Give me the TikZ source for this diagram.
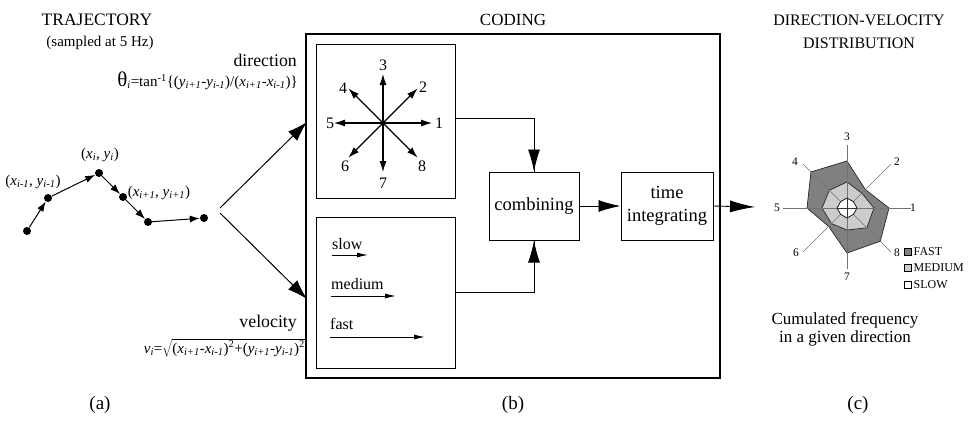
\documentclass[tikz,border=0pt]{standalone}
\usepackage{fontspec}
\setmainfont{Liberation Serif}
\usetikzlibrary{arrows.meta,calc}

% font size helper: size and baseline skip in pt
\newcommand{\setfs}[2]{\fontsize{#1}{#2}\selectfont}
% italic text subscript
\newcommand{\isub}[1]{\textsubscript{\itshape #1}}

\begin{document}
\begin{tikzpicture}[x=1pt,y=-1pt,
  lbl/.style={inner sep=0pt},
  outerbox/.style={draw, line width=1.3pt, inner sep=0pt},
  panel/.style={draw, line width=1pt, inner sep=0pt},
  stage/.style={draw, line width=1pt, inner sep=0pt, align=center, font=\setfs{18.5}{23}},
  dot/.style={circle, fill, inner sep=0pt, minimum size=8pt},
  trajarrow/.style={line width=1pt, -{Latex[length=10pt,width=7pt]}},
  branch/.style={line width=1pt, -{Latex[length=20pt,width=13pt]}},
  bigarrow/.style={line width=0.9pt, -{Latex[length=22pt,width=12pt]}},
  stararrow/.style={line width=1.1pt, -{Latex[length=11pt,width=7pt]}},
  speedarrow/.style={line width=1pt, -{Latex[length=11pt,width=5pt]}},
  link/.style={line width=0.9pt},
  radaxis/.style={line width=0.6pt, black!55},
  fastfill/.style={fill=black!50, draw=black!85, line width=0.7pt},
  medfill/.style={fill=black!20, draw=black!85, line width=0.7pt},
  slowfill/.style={fill=white, draw=black, line width=0.7pt},
  legsq/.style={draw, line width=0.6pt, inner sep=0pt, minimum size=7pt},
  radlbl/.style={inner sep=0pt, font=\setfs{11.5}{12}},
  starlbl/.style={inner sep=0pt, font=\setfs{16}{16}},
]
\useasboundingbox (0,0) rectangle (973,421);

% ---------------- titles ----------------
\node[lbl, font=\setfs{17.5}{20}] (ttraj) at (97,20) {TRAJECTORY};
\node[lbl, font=\setfs{15}{18}] (tsamp) at (100,43) {(sampled at 5 Hz)};
\node[lbl, font=\setfs{17}{20}] (tcod) at (513,20) {CODING};
\node[lbl, font=\setfs{16}{23}, align=center] (tdist) at (859,31.5) {DIRECTION-VELOCITY\\DISTRIBUTION};

% ---------------- (a) trajectory ----------------
\node[dot] (p1) at (27,231) {};
\node[dot] (p2) at (48,198) {};
\node[dot] (p3) at (99,173) {};
\node[dot] (p4) at (123,197) {};
\node[dot] (p5) at (148,222) {};
\node[dot] (p6) at (204,218) {};
\draw[trajarrow] (p1) -- (p2);
\draw[trajarrow] (p2) -- (p3);
\draw[trajarrow] (p3) -- (p4);
\draw[trajarrow] (p4) -- (p5);
\draw[trajarrow] (p5) -- (p6);

\node[lbl, font=\setfs{15}{16}] (lprev) at (33,182) {(\textit{x}\isub{i-1}, \textit{y}\isub{i-1})};
\node[lbl, font=\setfs{15}{16}] (lcur) at (100,155) {(\textit{x}\isub{i}, \textit{y}\isub{i})};
\node[lbl, font=\setfs{15}{16}] (lnext) at (159,193) {(\textit{x}\isub{i+1}, \textit{y}\isub{i+1})};

% fork towards the two codings
\coordinate (forkup) at (220,208);
\coordinate (forkdown) at (220,213);
\coordinate (dirin) at (307,122);
\coordinate (velin) at (307,299);
\draw[branch] (forkup) -- (dirin);
\draw[branch] (forkdown) -- (velin);

\node[lbl, anchor=east, font=\setfs{17.8}{20}] (ldir) at (297,60) {direction};
\node[lbl, anchor=east, font=\setfs{15}{16}] (fdir) at (298,81)
  {{\setfs{21}{21}θ}\isub{i}=tan\textsuperscript{-1}\{(\textit{y}\isub{i+1}-\textit{y}\isub{i-1})/(\textit{x}\isub{i+1}-\textit{x}\isub{i-1})\}};
\node[lbl, anchor=east, font=\setfs{17.8}{20}] (lvel) at (297,323) {velocity};
\node[lbl, anchor=east, font=\setfs{15}{16}] (fvel) at (305,348)
  {\textit{v}\isub{i}=$\sqrt{\mbox{(\textit{x}\isub{i+1}-\textit{x}\isub{i-1})\textsuperscript{2}+(\textit{y}\isub{i+1}-\textit{y}\isub{i-1})\textsuperscript{2}}}$};

\node[lbl, font=\setfs{19}{20}] (capa) at (100,405) {(a)};

% ---------------- (b) coding ----------------
\node[outerbox, minimum width=414pt, minimum height=344pt] (coding) at (513,206) {};
\node[panel, minimum width=139pt, minimum height=154pt] (dirbox) at (385.5,121) {};
\node[panel, minimum width=139pt, minimum height=151pt] (velbox) at (385.5,292.5) {};
\node[stage, minimum width=90pt, minimum height=68pt] (comb) at (534,206) {combining};
\node[stage, minimum width=92pt, minimum height=68pt] (timeint) at (667,206) {time\\integrating};

% eight coded directions
\coordinate (dc) at (383,123);
\foreach \k in {1,...,8} {
  \pgfmathsetmacro{\ang}{-(\k-1)*45}
  \coordinate (d\k) at ($(dc)+(\ang:49)$);
}
\foreach \k in {1,...,8} {
  \draw[stararrow] (dc) -- (d\k);
}
\node[starlbl] (s1) at (439,123) {1};
\node[starlbl] (s2) at (423,87) {2};
\node[starlbl] (s3) at (383,65) {3};
\node[starlbl] (s4) at (343,88) {4};
\node[starlbl] (s5) at (330,123) {5};
\node[starlbl] (s6) at (345,166) {6};
\node[starlbl] (s7) at (383,183) {7};
\node[starlbl] (s8) at (422,166) {8};

% three coded speeds
\node[lbl, anchor=base west, font=\setfs{16}{16}] (tslow) at (332,249) {slow};
\node[lbl, anchor=base west, font=\setfs{16}{16}] (tmed) at (331,289) {medium};
\node[lbl, anchor=base west, font=\setfs{16}{16}] (tfast) at (330,329) {fast};
\coordinate (slowa) at (332,255);  \coordinate (slowb) at (368,255);
\coordinate (meda) at (331,296);   \coordinate (medb) at (396,296);
\coordinate (fasta) at (330,337);  \coordinate (fastb) at (425,337);
\draw[speedarrow] (slowa) -- (slowb);
\draw[speedarrow] (meda) -- (medb);
\draw[speedarrow] (fasta) -- (fastb);

% connections
\draw[link] ([yshift=3pt]dirbox.east) -| (comb.north);
\draw[bigarrow] (comb.north |- 0,140) -- (comb.north);
\draw[link] (velbox.east) -| (comb.south);
\draw[bigarrow] (comb.south |- 0,272) -- (comb.south);
\draw[bigarrow] (comb.east) -- (timeint.west);

\node[lbl, font=\setfs{19}{20}] (capb) at (513,405) {(b)};

% ---------------- (c) distribution ----------------
\coordinate (rc) at (847,208);
\coordinate (radin) at (755,207);
\draw[bigarrow, -{Latex[length=25pt,width=12pt]}] (timeint.east) -- (radin);

\begin{scope}[shift={(847,208)}]
  \filldraw[fastfill] (0:42) -- (-45:26) -- (-90:47) -- (-135:51) -- (-180:40)
      -- (-225:26) -- (-270:45) -- (-315:47) -- cycle;
  \filldraw[medfill] (0:27) -- (-45:21) -- (-90:26) -- (-135:25) -- (-180:25)
      -- (-225:22) -- (-270:22) -- (-315:28) -- cycle;
  \foreach \a/\r in {0/64,-45/62,-90/63,-135/62,-180/64,-225/62,-270/61,-315/62}
    \draw[radaxis] (0,0) -- (\a:\r);
  \filldraw[slowfill] (0:10) -- (-45:9) -- (-90:10) -- (-135:9) -- (-180:10)
      -- (-225:9) -- (-270:10) -- (-315:9) -- cycle;
  \draw[radaxis, black!80] (-180:10) -- (0:10) (-90:10) -- (-270:10);
\end{scope}

\node[radlbl] (r1) at (913,208) {1};
\node[radlbl] (r2) at (897,162) {2};
\node[radlbl] (r3) at (847,137) {3};
\node[radlbl] (r4) at (795,162) {4};
\node[radlbl] (r5) at (777,208) {5};
\node[radlbl] (r6) at (796,253) {6};
\node[radlbl] (r7) at (847,277) {7};
\node[radlbl] (r8) at (897,253) {8};

% legend
\node[legsq, fill=black!50] (qf) at (908,252) {};
\node[legsq, fill=black!20] (qm) at (908,268) {};
\node[legsq, fill=white] (qs) at (908,285) {};
\node[lbl, anchor=west, font=\setfs{12}{12}] (lf) at (913.5,252) {FAST};
\node[lbl, anchor=west, font=\setfs{12}{12}] (lm) at (913.5,268) {MEDIUM};
\node[lbl, anchor=west, font=\setfs{12}{12}] (ls) at (913.5,285) {SLOW};

\node[lbl, align=center, font=\setfs{17}{18}] (cum) at (845,329) {Cumulated frequency\\in a given direction};

\node[lbl, font=\setfs{19}{20}] (capc) at (858,405) {(c)};
\end{tikzpicture}
\end{document}
